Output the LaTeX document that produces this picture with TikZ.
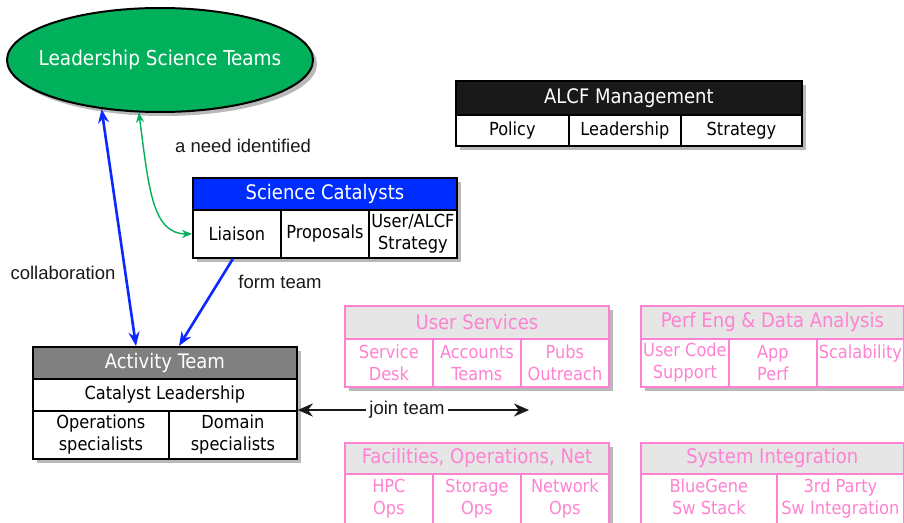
\documentclass[tikz,border=0pt]{standalone}
\usepackage{fontspec}
\newfontfamily\boxfont{DejaVu Sans Condensed}
\newfontfamily\lblfont{Liberation Sans}
\usetikzlibrary{arrows.meta,shadows,shapes.geometric}
\definecolor{teamgreen}{RGB}{0,176,90}
\definecolor{catblue}{RGB}{0,45,255}
\definecolor{linkblue}{RGB}{10,40,255}
\definecolor{grppink}{RGB}{255,130,210}
\definecolor{headgray}{RGB}{230,230,230}
\tikzset{
  frame/.style={anchor=north west, inner sep=0pt, draw=black, line width=2pt, fill=white,
    drop shadow={shadow xshift=4pt, shadow yshift=-4pt, fill=black!55}},
  cell/.style={anchor=north west, inner sep=0pt, draw=black, line width=1.8pt, fill=white,
    align=center, font=\boxfont\fontsize{18}{22}\selectfont},
  head/.style={cell, text=white, font=\boxfont\fontsize{20}{22}\selectfont},
  pinkframe/.style={frame, draw=grppink},
  pinkcell/.style={cell, draw=grppink, text=grppink},
  pinkhead/.style={pinkcell, fill=headgray, font=\boxfont\fontsize{20}{22}\selectfont},
  lbl/.style={text=black!90, font=\lblfont\fontsize{18.5}{20}\selectfont},
  bluelink/.style={line width=2.6pt, draw=linkblue},
  greenlink/.style={line width=1.4pt, draw=teamgreen},
  joinlink/.style={line width=2.2pt, draw=black!90, -{Stealth[length=15pt, width=13pt]}},
}
\begin{document}
\begin{tikzpicture}[x=1pt, y=-1pt]
	\useasboundingbox (0,0) rectangle (904,522);
	% science teams
	\node[ellipse, draw=black, line width=2pt, fill=teamgreen, text=white, inner sep=0pt, minimum width=306pt, minimum height=104pt,
		font=\boxfont\fontsize{20.5}{22}\selectfont, drop shadow={shadow xshift=4pt, shadow yshift=-4pt, fill=black!55}] (lst) at (160,60) {\makebox[0pt]{Leadership Science Teams}};
	% management
	\node[frame, minimum width=346pt, minimum height=65pt] (mgmt) at (455,80) {};
	\node[head, fill=black!90, minimum width=346pt, minimum height=34pt] (mgmthead) at (455,80) {ALCF Management};
	\node[cell, minimum width=113pt, minimum height=31pt] (policy) at (455,114) {Policy};
	\node[cell, minimum width=112pt, minimum height=31pt] (leadership) at (568,114) {Leadership};
	\node[cell, minimum width=121pt, minimum height=31pt] (strategy) at (680,114) {Strategy};
	% catalysts
	\node[frame, minimum width=264pt, minimum height=80pt] (cat) at (192,177) {};
	\node[head, fill=catblue, minimum width=264pt, minimum height=32pt] (cathead) at (192,177) {Science Catalysts};
	\node[cell, minimum width=88pt, minimum height=48pt] (liaison) at (192,209) {Liaison};
	\node[cell, minimum width=88pt, minimum height=48pt] (proposals) at (280,209) {Proposals};
	\node[cell, minimum width=88pt, minimum height=48pt] (userstrat) at (368,209) {User/ALCF\\Strategy};
	% activity team
	\node[frame, minimum width=264pt, minimum height=112pt] (act) at (32,346) {};
	\node[head, fill=black!50, minimum width=264pt, minimum height=32pt] (acthead) at (32,346) {Activity Team};
	\node[cell, minimum width=264pt, minimum height=32pt] (catlead) at (32,378) {Catalyst Leadership};
	\node[cell, minimum width=136pt, minimum height=48pt] (opspec) at (32,410) {Operations\\specialists};
	\node[cell, minimum width=128pt, minimum height=48pt] (domspec) at (168,410) {Domain\\specialists};
	% user services
	\node[pinkframe, minimum width=264pt, minimum height=81pt] (usr) at (344,305) {};
	\node[pinkhead, minimum width=264pt, minimum height=33pt] (usrhead) at (344,305) {User Services};
	\node[pinkcell, minimum width=88pt, minimum height=48pt] (desk) at (344,338) {Service\\Desk};
	\node[pinkcell, minimum width=88pt, minimum height=48pt] (accounts) at (432,338) {Accounts\\Teams};
	\node[pinkcell, minimum width=88pt, minimum height=48pt] (pubs) at (520,338) {Pubs\\Outreach};
	% perf eng
	\node[pinkframe, minimum width=263pt, minimum height=81pt] (perf) at (640,305) {};
	\node[pinkhead, minimum width=263pt, minimum height=33pt] (perfhead) at (640,305) {Perf Eng \& Data Analysis};
	\node[pinkcell, minimum width=88pt, minimum height=48pt] (usercode) at (640,338) {User Code\\Support};
	\node[pinkcell, minimum width=88pt, minimum height=48pt] (appperf) at (728,338) {App\\Perf};
	\node[pinkcell, minimum width=87pt, minimum height=48pt] (scal) at (816,338) {Scalability\\ \mbox{}};
	% facilities
	\node[pinkframe, minimum width=264pt, minimum height=81pt] (fac) at (344,442) {};
	\node[pinkhead, minimum width=264pt, minimum height=31pt] (fachead) at (344,442) {Facilities, Operations, Net};
	\node[pinkcell, minimum width=88pt, minimum height=50pt] (hpc) at (344,473) {HPC\\Ops};
	\node[pinkcell, minimum width=88pt, minimum height=50pt] (storage) at (432,473) {Storage\\Ops};
	\node[pinkcell, minimum width=88pt, minimum height=50pt] (network) at (520,473) {Network\\Ops};
	% system integration
	\node[pinkframe, minimum width=263pt, minimum height=81pt] (sys) at (640,442) {};
	\node[pinkhead, minimum width=263pt, minimum height=31pt] (syshead) at (640,442) {System Integration};
	\node[pinkcell, minimum width=136pt, minimum height=50pt] (bluegene) at (640,473) {\strut BlueGene\\\strut Sw Stack};
	\node[pinkcell, minimum width=127pt, minimum height=50pt] (thirdparty) at (776,473) {\strut 3rd Party\\\strut Sw Integration};
	% labels
	\node[lbl] (needlbl) at (243,146) {a need identified};
	\node[lbl] (collbl) at (63,273) {collaboration};
	\node[lbl] (formlbl) at (280,282) {form team};
	\node[lbl] (joinlbl) at (407,410) {join team};
	\coordinate (joinend) at (529,410);
	% links
	\draw[bluelink, {Stealth[length=14pt, width=11pt]}-{Stealth[length=14pt, width=11pt]}] (lst.220) -- ([xshift=104pt]act.north west);
	\draw[bluelink, -{Stealth[length=14pt, width=11pt]}] ([xshift=-4pt]liaison.south) -- ([xshift=147pt]act.north west);
	\draw[greenlink, {Stealth[length=10pt, width=8pt]}-{Stealth[length=10pt, width=8pt]}] (lst.248) .. controls +(10,75) and +(-40,0) .. (liaison.west);
	\draw[joinlink] (joinlbl.west) -- (domspec.north east);
	\draw[joinlink] (joinlbl.east) -- (joinend);
\end{tikzpicture}
\end{document}
